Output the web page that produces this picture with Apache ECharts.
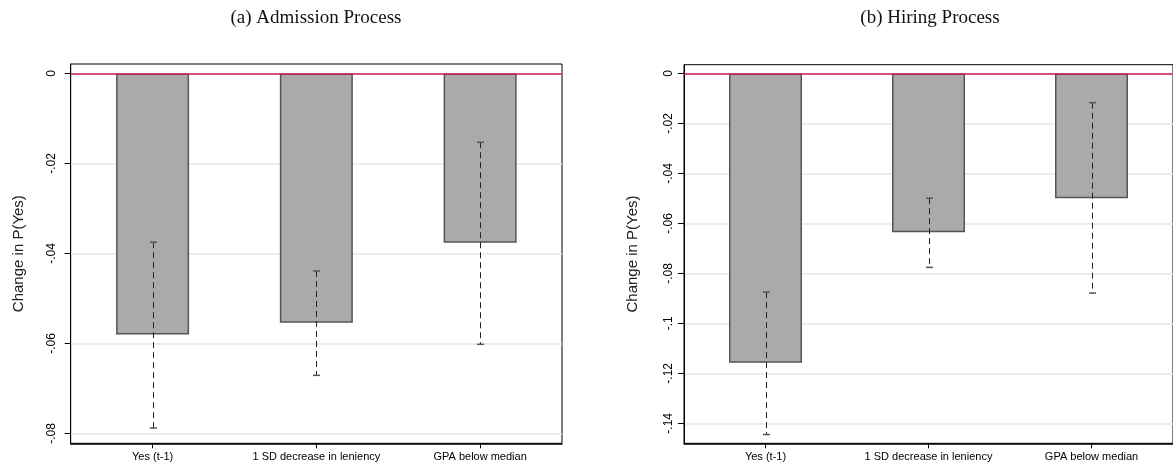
<!DOCTYPE html>
<html>
<head>
<meta charset="utf-8">
<script src="https://cdn.jsdelivr.net/npm/echarts@6/dist/echarts.min.js"></script>
<style>
html,body{margin:0;padding:0;background:#fff;}
#chart{width:1173px;height:469px;}
</style>
</head>
<body>
<div id="chart"></div>
<script>
// ---- data ----
const categories = ['Yes (t-1)', '1 SD decrease in leniency', 'GPA below median'];
const admitCoef = [-0.0580, -0.0554, -0.0376];
const admitLow  = [-0.0788, -0.0671, -0.0602];
const admitHigh = [-0.0375, -0.0439, -0.0153];
const hireCoef  = [-0.1158, -0.0635, -0.0499];
const hireLow   = [-0.1445, -0.0776, -0.0879];
const hireHigh  = [-0.0875, -0.0499, -0.0117];
const admitTicks = [0, -0.02, -0.04, -0.06, -0.08];
const hireTicks  = [0, -0.02, -0.04, -0.06, -0.08, -0.1, -0.12, -0.14];
const titles = ['(a) Admission Process', '(b) Hiring Process'];
const yTitle = 'Change in P(Yes)';

const fmt = v => v === 0 ? '0' : '-' + String(+Math.abs(v).toFixed(4)).replace(/^0/, '');

function yAxis(gridIndex, min, max, ticks, labelMargin) {
  return {
    type: 'value', gridIndex, min, max,
    name: yTitle, nameLocation: 'middle', nameGap: 44,
    nameTextStyle: {fontFamily: 'Liberation Sans', fontSize: 15, color: '#222'},
    axisLine: {show: true, lineStyle: {color: '#000', width: 1}},
    axisTick: {show: true, length: 6, customValues: ticks, lineStyle: {color: '#000'}},
    axisLabel: {customValues: ticks, rotate: 90, margin: labelMargin, formatter: fmt,
      fontFamily: 'Liberation Sans', fontSize: 12, color: '#000'},
    splitLine: {show: true, lineStyle: {color: '#e6e6e6', width: 1.5}}
  };
}
function xAxis(gridIndex) {
  return {
    type: 'category', gridIndex, data: categories, boundaryGap: true,
    axisLine: {show: true, onZero: false, lineStyle: {color: '#000', width: 1.5}},
    axisTick: {show: true, alignWithLabel: true, length: 5, lineStyle: {color: '#000'}},
    axisLabel: {margin: 8, fontFamily: 'Liberation Sans', fontSize: 11, color: '#000', interval: 0},
    splitLine: {show: false}
  };
}
function barSeries(idx, vals) {
  return {
    type: 'bar', xAxisIndex: idx, yAxisIndex: idx, data: vals, barWidth: 73,
    itemStyle: {color: '#aaaaaa', borderColor: '#555555', borderWidth: 1.5},
    z: 2,
    markLine: {silent: true, symbol: 'none', label: {show: false},
      lineStyle: {color: '#d0204f', width: 1.5, type: 'solid'},
      data: [{yAxis: 0}], z: 5}
  };
}
function errSeries(idx, lo, hi) {
  return {
    type: 'custom', xAxisIndex: idx, yAxisIndex: idx, z: 4,
    data: lo.map((l, i) => [i, l, hi[i]]),
    renderItem: function (params, api) {
      const x = api.value(0);
      const pLo = api.coord([x, api.value(1)]);
      const pHi = api.coord([x, api.value(2)]);
      const cx = Math.round(pLo[0]) + 0.5;
      const cw = 3.5;
      return {
        type: 'group',
        children: [
          {type: 'line', shape: {x1: cx, y1: pHi[1], x2: cx, y2: pLo[1]},
           style: {stroke: '#222', lineWidth: 1, lineDash: [6, 4]}},
          {type: 'line', shape: {x1: cx - cw, y1: pHi[1], x2: cx + cw, y2: pHi[1]},
           style: {stroke: '#555', lineWidth: 1.5}},
          {type: 'line', shape: {x1: cx - cw, y1: pLo[1], x2: cx + cw, y2: pLo[1]},
           style: {stroke: '#555', lineWidth: 1.5}}
        ]
      };
    }
  };
}

const chart = echarts.init(document.getElementById('chart'), null, {renderer: 'canvas'});
chart.setOption({
  backgroundColor: '#fff',
  animation: false,
  graphic: [
    {type: 'text', x: 316, y: 18, style: {text: titles[0], textAlign: 'center', textVerticalAlign: 'middle',
      font: '19px "Liberation Serif"', fill: '#111'}},
    {type: 'text', x: 930, y: 18, style: {text: titles[1], textAlign: 'center', textVerticalAlign: 'middle',
      font: '19px "Liberation Serif"', fill: '#111'}}
  ],
  grid: [
    {left: 70.7, top: 64, width: 491.3, height: 379.3, show: true, borderColor: '#000', borderWidth: 1, containLabel: false},
    {left: 684, top: 64.7, width: 492, height: 378.6, show: true, borderColor: '#000', borderWidth: 1, containLabel: false}
  ],
  xAxis: [xAxis(0), xAxis(1)],
  yAxis: [yAxis(0, -0.0822, 0.0021, admitTicks, 13), yAxis(1, -0.148, 0.0035, hireTicks, 9)],
  series: [
    barSeries(0, admitCoef), errSeries(0, admitLow, admitHigh),
    barSeries(1, hireCoef), errSeries(1, hireLow, hireHigh)
  ]
});
</script>
</body>
</html>
